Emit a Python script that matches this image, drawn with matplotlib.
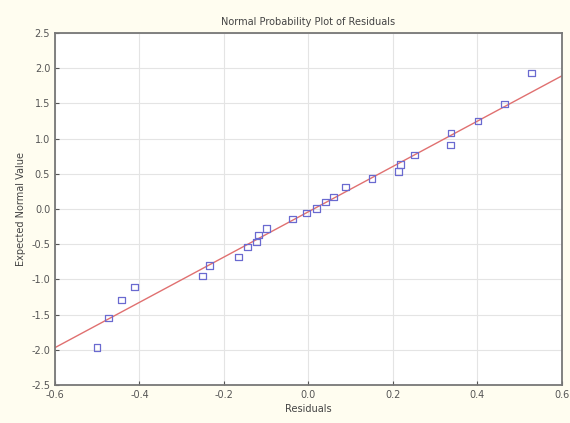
import matplotlib
matplotlib.use("Agg")
import matplotlib.pyplot as plt
import numpy as np

# Residuos e valores normais esperados
residuos = [-0.50, -0.473, -0.443, -0.412, -0.251, -0.234, -0.166, -0.144, -0.123,
            -0.118, -0.099, -0.038, -0.005, 0.019, 0.040, 0.059, 0.088, 0.151,
            0.213, 0.218, 0.251, 0.336, 0.338, 0.402, 0.464, 0.528]
esperado = [-1.97, -1.55, -1.29, -1.11, -0.95, -0.80, -0.68, -0.54, -0.47,
            -0.37, -0.28, -0.14, -0.06, 0.01, 0.10, 0.17, 0.31, 0.43,
            0.53, 0.63, 0.77, 0.91, 1.08, 1.25, 1.49, 1.93]

# Reta de referência (extremos)
reta_x = [-0.6, 0.6]
reta_y = [-1.97, 1.89]

x_ticks = [-0.6, -0.4, -0.2, 0.0, 0.2, 0.4, 0.6]
y_ticks = [-2.5, -2.0, -1.5, -1.0, -0.5, 0.0, 0.5, 1.0, 1.5, 2.0, 2.5]

fig = plt.figure(figsize=(5.7, 4.23), dpi=100, facecolor="#fffdf0")
ax = fig.add_axes([0.0965, 0.09, 0.889, 0.832])
ax.set_facecolor("white")

ax.plot(reta_x, reta_y, color="#e07070", lw=1.0, zorder=2)
ax.scatter(residuos, esperado, marker="s", s=22, facecolors="none",
           edgecolors="#6a6ad0", linewidths=0.9, zorder=3)

ax.set_xlim(-0.6, 0.6)
ax.set_ylim(-2.5, 2.5)
ax.set_xticks(x_ticks)
ax.set_yticks(y_ticks)
ax.set_xticklabels([f"{v:.1f}" for v in x_ticks])
ax.set_yticklabels([f"{v:.1f}" for v in y_ticks])
ax.tick_params(labelsize=7, colors="#555555", length=3, direction="in")
ax.grid(True, color="#e4e4e4", lw=0.8)
ax.set_axisbelow(True)
for s in ax.spines.values():
    s.set_color("#777777")
    s.set_linewidth(1.3)

ax.set_title("Normal Probability Plot of Residuals", fontsize=7, color="#444444", pad=6)
ax.set_xlabel("Residuals", fontsize=7, color="#444444", labelpad=3)
ax.set_ylabel("Expected Normal Value", fontsize=7, color="#444444", labelpad=4)

plt.savefig("out.png", dpi=100, facecolor=fig.get_facecolor())
